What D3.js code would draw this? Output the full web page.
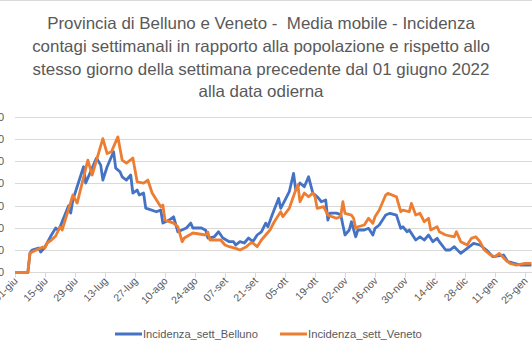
<!DOCTYPE html>
<html><head><meta charset="utf-8">
<script src="https://cdn.jsdelivr.net/npm/d3@7"></script>
<style>html,body{margin:0;padding:0;background:#fff;overflow:hidden}</style>
</head><body>
<svg id="c" width="532" height="355"></svg>
<script>
const titleLines = [
  "Provincia di Belluno e Veneto -  Media mobile - Incidenza",
  "contagi settimanali in rapporto alla popolazione e rispetto allo",
  "stesso giorno della settimana precedente dal 01 giugno 2022",
  "alla data odierna"
];
const seriesNames = ["Incidenza_sett_Belluno", "Incidenza_sett_Veneto"];
const tickLabels = ["01-giu","15-giu","29-giu","13-lug","27-lug","10-ago","24-ago","07-set","21-set","05-ott","19-ott","02-nov","16-nov","30-nov","14-dic","28-dic","11-gen","25-gen"];
const yTicks = [0,200,400,600,800,1000,1200,1400];
// day offsets from 01 giugno 2022
const bellunoDays = [0,6,7,8,11,12,14,15,17,19,20,21,25,26,27,32,33,38,40,41,43,44,46,47,49,50,52,54,55,57,58,60,61,66,68,69,72,74,76,80,82,83,87,89,90,93,95,97,100,102,103,105,107,109,111,113,115,117,118,120,123,124,126,128,130,131,133,135,137,139,141,143,145,146,147,150,152,153,154,156,157,159,160,163,165,167,168,170,173,175,178,180,181,183,184,187,189,191,193,195,197,198,201,203,205,208,211,214,217,220,223,228,230,233,236,241];
const bellunoVals = [0,0,175,202,220,184,229,265,337,400,382,409,600,534,651,950,804,1028,965,831,950,995,1085,938,905,860,831,876,714,741,696,714,579,546,561,444,471,501,366,400,444,400,400,380,310,321,366,310,277,277,247,277,265,310,277,337,366,444,411,516,666,577,651,726,891,741,804,770,860,714,681,636,651,471,534,534,520,427,337,382,456,321,382,382,397,337,397,427,516,532,516,397,411,366,382,292,321,292,337,277,307,277,202,202,232,172,217,262,247,202,142,157,97,82,67,67];
const venetoDays = [0,6,7,8,11,13,14,15,17,19,21,22,27,29,34,36,41,43,45,48,50,52,55,57,60,62,64,68,69,70,74,76,78,79,83,89,90,91,96,98,100,103,105,108,110,111,113,115,117,119,121,124,125,128,131,132,133,135,137,139,140,141,144,146,150,152,153,154,157,158,159,160,163,165,167,168,170,173,174,178,180,181,184,185,187,189,191,193,194,197,198,201,205,206,208,211,213,215,217,219,222,224,226,229,231,234,238,241];
const venetoVals = [0,0,175,184,211,229,220,265,292,328,409,382,696,624,1010,876,1203,1069,1085,1219,1010,983,1028,815,804,831,714,591,606,471,444,411,277,310,355,337,362,292,292,247,232,217,202,232,265,265,232,292,337,382,456,546,501,577,741,786,636,714,681,714,681,577,591,516,487,501,636,532,516,487,397,411,427,487,442,501,561,696,711,681,546,561,546,621,516,532,456,487,382,411,366,337,321,366,277,247,307,321,277,202,157,142,172,112,82,67,82,82];

const svg = d3.select("#c");
const start = new Date(2022,5,1);
const dayMs = 864e5;
const toDate = d => new Date(start.getTime() + d*dayMs);
const x = d3.scaleTime().domain([start, toDate(238)]).range([15, 525]);
const y = d3.scaleLinear().domain([0,1400]).range([272.5, 116.7]);
const font = "'Liberation Sans', Arial, sans-serif";
const txt = "#595959";

// chart border top
svg.append("line").attr("x1",0).attr("x2",532).attr("y1",0.5).attr("y2",0.5).attr("stroke","#d9d9d9");

// title
const tg = svg.append("g");
const baselines = [28.5, 51.5, 74.5, 97];
titleLines.forEach((t,i)=>{
  tg.append("text").attr("x",261).attr("y",baselines[i]).attr("text-anchor","middle")
    .style("white-space","pre")
    .attr("font-family",font).attr("font-size",16).attr("fill",txt).text(t);
});
const w2 = tg.selectAll("text").nodes()[1].getComputedTextLength();
tg.selectAll("text").attr("font-size", 16*458/w2);

// gridlines
svg.append("g").selectAll("line").data(yTicks.slice(1)).join("line")
  .attr("x1",15).attr("x2",540).attr("y1",d=>Math.round(y(d))+0.5).attr("y2",d=>Math.round(y(d))+0.5)
  .attr("stroke","#d9d9d9").attr("stroke-width",1);

// y axis labels (cut off at the left edge, as in the reference)
svg.append("g").selectAll("text").data(yTicks).join("text")
  .attr("x",4).attr("y",d=>y(d)).attr("dy","0.35em").attr("text-anchor","end")
  .attr("font-family",font).attr("font-size",11).attr("fill",txt)
  .text(d=>d3.format(",")(d).replace(/,/g,"."));

// x axis
const tickDates = tickLabels.map((t,i)=>toDate(i*14));
const xAxis = d3.axisBottom(x).tickValues(tickDates).tickSize(5).tickFormat((d,i)=>tickLabels[i]);
const xg = svg.append("g").attr("transform","translate(0,272.5)").call(xAxis);
xg.select(".domain").attr("d","M15,0H540").attr("stroke","#d9d9d9");
xg.selectAll(".tick line").attr("stroke","#d9d9d9");
xg.selectAll(".tick text").attr("font-family",font).attr("font-size",10.5).attr("fill",txt)
  .attr("text-anchor","end").attr("dy",0).attr("y",0)
  .attr("transform","translate(3,9) rotate(-45)");

// lines
const line = d3.line().x(d=>x(toDate(d[0]))).y(d=>y(d[1])).curve(d3.curveLinear);
const bData = bellunoDays.map((d,i)=>[d,bellunoVals[i]]);
const vData = venetoDays.map((d,i)=>[d,venetoVals[i]]);
const colors = ["#4472C4","#ED7D31"];
[bData, vData].forEach((dat,i)=>{
  svg.append("path").datum(dat).attr("d",line).attr("fill","none")
    .attr("stroke",colors[i]).attr("stroke-width",2.8).attr("stroke-linejoin","round");
});

// legend
const lg = svg.append("g");
const legX = [115, 280];
seriesNames.forEach((n,i)=>{
  lg.append("line").attr("x1",legX[i]).attr("x2",legX[i]+27).attr("y1",334).attr("y2",334)
    .attr("stroke",colors[i]).attr("stroke-width",3);
  const t = lg.append("text").attr("x",legX[i]+28).attr("y",334).attr("dy","0.35em")
    .attr("font-family",font).attr("font-size",11).attr("fill",txt).text(n);
  const w = t.node().getComputedTextLength();
  const target = i===0 ? 115 : 114;
  t.attr("font-size", 11*target/w);
});
</script>
</body></html>
